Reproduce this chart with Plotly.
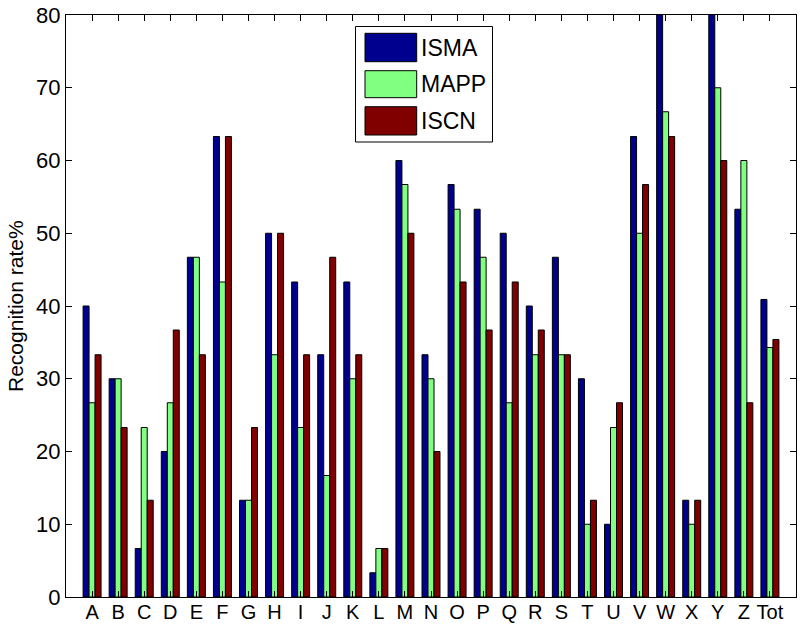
import plotly.graph_objects as go

categories = ["A","B","C","D","E","F","G","H","I","J","K","L","M","N","O","P","Q","R","S","T","U","V","W","X","Y","Z","Tot"]
isma = [40.0, 30.0, 6.67, 20.0, 46.7, 63.3, 13.3, 50.0, 43.3, 33.3, 43.3, 3.33, 60.0, 33.3, 56.7, 53.3, 50.0, 40.0, 46.7, 30.0, 10.0, 63.3, 86.7, 13.3, 86.7, 53.3, 40.9]
mapp = [26.7, 30.0, 23.3, 26.7, 46.7, 43.3, 13.3, 33.3, 23.3, 16.7, 30.0, 6.67, 56.7, 30.0, 53.3, 46.7, 26.7, 33.3, 33.3, 10.0, 23.3, 50.0, 66.7, 10.0, 70.0, 60.0, 34.3]
iscn = [33.3, 23.3, 13.3, 36.7, 33.3, 63.3, 23.3, 50.0, 33.3, 46.7, 33.3, 6.67, 50.0, 20.0, 43.3, 36.7, 43.3, 36.7, 33.3, 13.3, 26.7, 56.7, 63.3, 13.3, 60.0, 26.7, 35.4]
series_names = ["ISMA", "MAPP", "ISCN"]
colors = ["#00008F", "#80FF80", "#800000"]
y_ticks = [0, 10, 20, 30, 40, 50, 60, 70, 80]

W, H = 802, 625
ML, MR, MT, MB = 66, 6, 15, 28
PW, PH = W - ML - MR, H - MT - MB

def px(x):
    return (x - ML) / PW

def py(y):
    return (H - MB - y) / PH

xs = list(range(1, len(categories) + 1))
fig = go.Figure()
for name, vals, col in zip(series_names, [isma, mapp, iscn], colors):
    fig.add_trace(go.Bar(x=xs, y=vals, name=name, marker=dict(color=col, line=dict(color="black", width=1)),
                         showlegend=False))

FONT = "Liberation Sans, Arial, sans-serif"
FS = 22
fig.update_layout(
    width=W, height=H,
    margin=dict(l=ML, r=MR, t=MT, b=MB, autoexpand=False),
    paper_bgcolor="white", plot_bgcolor="white",
    barmode="group", bargap=0.31, bargroupgap=0.0,
    font=dict(family=FONT, size=FS, color="black"),
)
fig.update_xaxes(range=[0, 28], tickvals=xs, ticktext=categories, ticks="inside", ticklen=6,
                 tickcolor="black", showline=True, linecolor="black", linewidth=1, mirror="ticks",
                 showgrid=False, zeroline=False, tickfont=dict(size=20), automargin=False,
                 ticklabelstandoff=-3)
fig.update_yaxes(range=[0, 80], tickvals=y_ticks, ticks="inside", ticklen=6, tickcolor="black",
                 showline=True, linecolor="black", linewidth=1, mirror="ticks", showgrid=False,
                 zeroline=False, tickfont=dict(size=FS), automargin=False)

# y-axis title
fig.add_annotation(text="Recognition rate%", textangle=-90, xref="paper", yref="paper",
                   x=px(15), y=0.5, showarrow=False, xanchor="center", yanchor="middle",
                   font=dict(size=21))

# legend box drawn manually
shapes = [dict(type="rect", xref="paper", yref="paper", x0=px(355.5), x1=px(492.5), y0=py(142), y1=py(26.5),
               line=dict(color="black", width=1), fillcolor="white", layer="above")]
patch_y = [(33.3, 61.7), (70.7, 97.7), (106.7, 135.0)]
for (ya, yb), col, name in zip(patch_y, colors, series_names):
    shapes.append(dict(type="rect", xref="paper", yref="paper", x0=px(365), x1=px(416.7), y0=py(yb), y1=py(ya),
                       line=dict(color="black", width=1), fillcolor=col, layer="above"))
    fig.add_annotation(text=name, xref="paper", yref="paper", x=px(418.5), y=py((ya + yb) / 2),
                       xanchor="left", yanchor="middle", showarrow=False, font=dict(size=23))
fig.update_layout(shapes=shapes)

fig.write_html("out.html")
